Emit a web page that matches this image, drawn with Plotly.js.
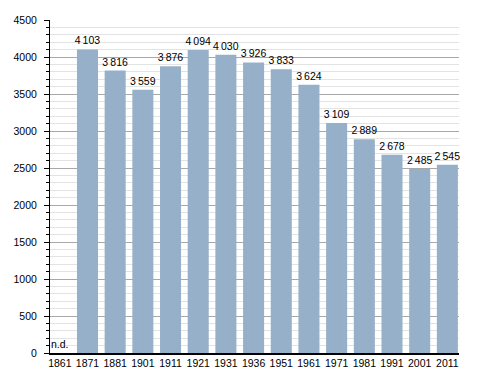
<!DOCTYPE html>
<html>
<head>
<meta charset="utf-8">
<script src="https://cdn.plot.ly/plotly-3.0.1.min.js"></script>
<style>html,body{margin:0;padding:0;background:#fff;}#chart{width:488px;height:373px;}</style>
</head>
<body>
<div id="chart"></div>
<script>
const years = ["1861","1871","1881","1901","1911","1921","1931","1936","1951","1961","1971","1981","1991","2001","2011"];
const population = [null,4103,3816,3559,3876,4094,4030,3926,3833,3624,3109,2889,2678,2485,2545];
const missingLabel = "n.d.";

function fmt(v){
  if (v === null) return "";
  const s = String(v);
  return s.length > 3 ? s.slice(0, s.length-3) + "\u2009" + s.slice(-3) : s;
}

const font = {family: "Liberation Sans, Arial, sans-serif", size: 10.5, color: "#000"};

const trace = {
  type: "bar",
  x: years,
  y: population,
  text: population.map(fmt),
  textposition: "outside",
  constraintext: "none",
  cliponaxis: false,
  textfont: font,
  marker: {color: "#97b0c9", line: {width: 0}},
  hoverinfo: "x+y"
};

const annotations = [];
population.forEach((v, i) => {
  if (v === null) {
    annotations.push({
      x: i, y: 0, xref: "x", yref: "y",
      text: missingLabel, showarrow: false,
      yanchor: "bottom", xanchor: "center", yshift: 1,
      font: font
    });
  }
});

const layout = {
  width: 488, height: 373,
  margin: {l: 50, r: 29, t: 20, b: 20, pad: 0},
  paper_bgcolor: "#fff", plot_bgcolor: "#fff",
  font: font,
  bargap: 0.24,
  showlegend: false,
  xaxis: {
    type: "category",
    range: [-0.354, 14.42],
    showgrid: false,
    showline: true, linecolor: "#000", linewidth: 1.5,
    ticks: "", ticklen: 0,
    tickfont: font,
    zeroline: false
  },
  yaxis: {
    range: [0, 4500],
    dtick: 500, tick0: 0,
    showgrid: true, gridcolor: "#a8a8a8", gridwidth: 1,
    showline: true, linecolor: "#000", linewidth: 1,
    ticks: "outside", ticklen: 5, tickcolor: "#000",
    ticklabelstandoff: 5,
    tickfont: font,
    zeroline: false,
    minor: {dtick: 100, showgrid: true, gridcolor: "#e3e3e3", gridwidth: 1, ticks: "outside", ticklen: 3, tickcolor: "#000"}
  },
  annotations: annotations
};

Plotly.newPlot("chart", [trace], layout, {displayModeBar: false, staticPlot: true});
</script>
</body>
</html>
